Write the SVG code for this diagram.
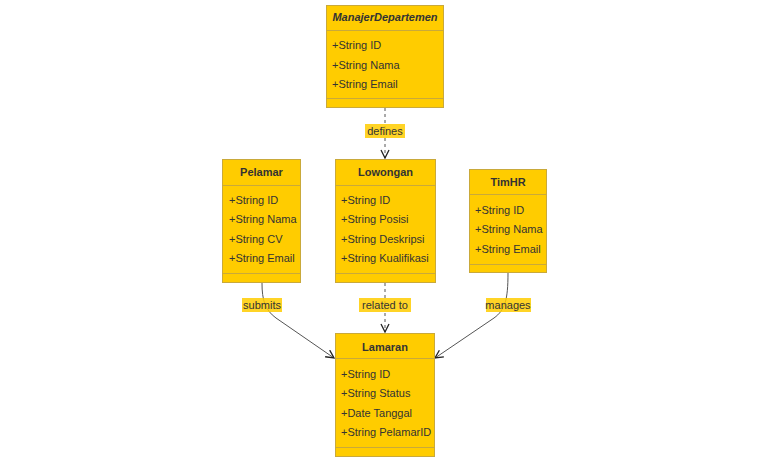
<svg xmlns="http://www.w3.org/2000/svg" width="770" height="462" viewBox="0 0 770 462">
<defs>
<style>
.box{fill:#ffcc00;stroke:#c9a93a;stroke-width:1}
.div{stroke:#c9a93a;stroke-width:1}
.t{font-family:"Liberation Sans",Arial,sans-serif;font-size:11px;fill:#333}
.title{text-anchor:middle;font-weight:bold}
.edge{fill:none;stroke:#555;stroke-width:1}
.dash{stroke-dasharray:3,3}
.lbl{fill:#ffcc00;opacity:0.85}
.lt{font-family:"Liberation Sans",Arial,sans-serif;font-size:11px;fill:#333;text-anchor:middle}
</style>
<marker id="arr" markerWidth="10" markerHeight="10" refX="9" refY="5" orient="auto" markerUnits="userSpaceOnUse">
<path d="M1,1 L9,5 L1,9" fill="none" stroke="#222" stroke-width="1.3"/>
</marker>
</defs>
<g id="edges">
<path class="edge dash" d="M385,108 L385,158" marker-end="url(#arr)"/>
<path class="edge dash" d="M385,283 L385,332" marker-end="url(#arr)"/>
<path class="edge" d="M262,283 C262,300 265,310 276,318 L334,358" marker-end="url(#arr)"/>
<path class="edge" d="M508,273 C508,300 505,310 494,318 L435,358" marker-end="url(#arr)"/>
<rect class="lbl" x="365" y="124" width="40" height="14"/>
<text class="lt" x="385" y="135">defines</text>
<rect class="lbl" x="242" y="298" width="40" height="14"/>
<text class="lt" x="262" y="309">submits</text>
<rect class="lbl" x="359" y="298" width="52" height="14"/>
<text class="lt" x="385" y="309">related to</text>
<rect class="lbl" x="486" y="298" width="45" height="14"/>
<text class="lt" x="508" y="309">manages</text>
</g>
<g id="ManajerDepartemen">
<rect class="box" x="326.5" y="5.5" width="117" height="102"/>
<line class="div" x1="326.5" y1="30.5" x2="443.5" y2="30.5"/>
<line class="div" x1="326.5" y1="98.5" x2="443.5" y2="98.5"/>
<text class="t title" x="385" y="21" font-style="italic">ManajerDepartemen</text>
<text class="t" x="332" y="49">+String ID</text>
<text class="t" x="332" y="69">+String Nama</text>
<text class="t" x="332" y="88">+String Email</text>
</g>
<g id="Pelamar">
<rect class="box" x="222.5" y="159.5" width="78" height="123"/>
<line class="div" x1="222.5" y1="185.5" x2="300.5" y2="185.5"/>
<line class="div" x1="222.5" y1="273.5" x2="300.5" y2="273.5"/>
<text class="t title" x="261.5" y="176">Pelamar</text>
<text class="t" x="229" y="204">+String ID</text>
<text class="t" x="229" y="223">+String Nama</text>
<text class="t" x="229" y="243">+String CV</text>
<text class="t" x="229" y="262">+String Email</text>
</g>
<g id="Lowongan">
<rect class="box" x="335.5" y="159.5" width="100" height="123"/>
<line class="div" x1="335.5" y1="185.5" x2="435.5" y2="185.5"/>
<line class="div" x1="335.5" y1="273.5" x2="435.5" y2="273.5"/>
<text class="t title" x="385.5" y="176">Lowongan</text>
<text class="t" x="341" y="204">+String ID</text>
<text class="t" x="341" y="223">+String Posisi</text>
<text class="t" x="341" y="243">+String Deskripsi</text>
<text class="t" x="341" y="262">+String Kualifikasi</text>
</g>
<g id="TimHR">
<rect class="box" x="469.5" y="169.5" width="77" height="103"/>
<line class="div" x1="469.5" y1="194.5" x2="546.5" y2="194.5"/>
<line class="div" x1="469.5" y1="264.5" x2="546.5" y2="264.5"/>
<text class="t title" x="508" y="186">TimHR</text>
<text class="t" x="475" y="214">+String ID</text>
<text class="t" x="475" y="233">+String Nama</text>
<text class="t" x="475" y="253">+String Email</text>
</g>
<g id="Lamaran">
<rect class="box" x="335.5" y="333.5" width="99" height="123"/>
<line class="div" x1="335.5" y1="358.5" x2="434.5" y2="358.5"/>
<line class="div" x1="335.5" y1="447.5" x2="434.5" y2="447.5"/>
<text class="t title" x="385" y="351">Lamaran</text>
<text class="t" x="341" y="378">+String ID</text>
<text class="t" x="341" y="397">+String Status</text>
<text class="t" x="341" y="417">+Date Tanggal</text>
<text class="t" x="341" y="436">+String PelamarID</text>
</g>
</svg>
